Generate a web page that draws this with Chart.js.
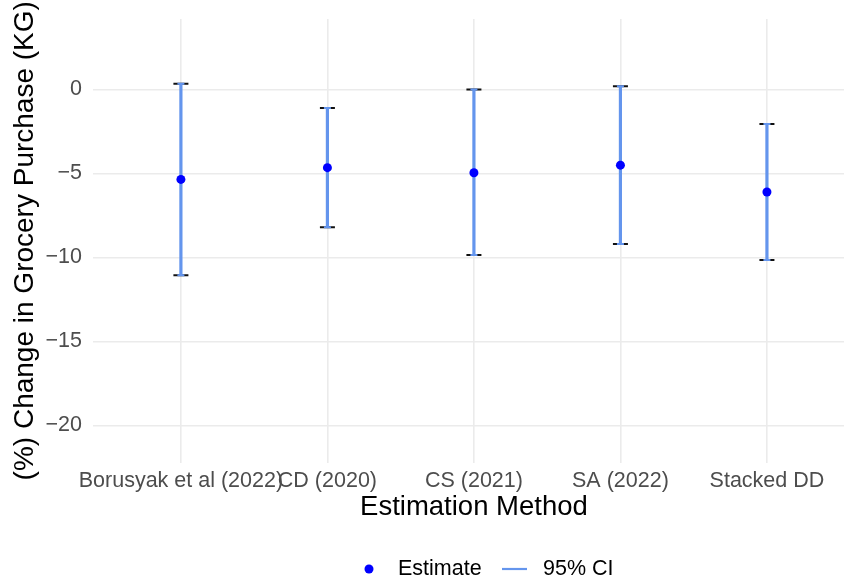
<!DOCTYPE html>
<html>
<head>
<meta charset="utf-8">
<script src="https://cdn.jsdelivr.net/npm/chart.js@4/dist/chart.umd.min.js"></script>
<style>
  html, body { margin: 0; padding: 0; background: #ffffff; }
  #wrap { width: 844px; height: 586px; }
</style>
</head>
<body>
<div id="wrap"><canvas id="chart" width="844" height="586"></canvas></div>
<script>
// Estimation methods and their point estimates with 95% confidence bounds
const categories = ['Borusyak et al (2022)', 'CD (2020)', 'CS (2021)', 'SA (2022)', 'Stacked DD'];
const estimates  = [-5.35, -4.65, -4.95, -4.5, -6.1];
const ciLower    = [-11.05, -8.2, -9.85, -9.2, -10.15];
const ciUpper    = [0.35, -1.1, 0.0, 0.2, -2.05];
const yTicks     = [0, -5, -10, -15, -20];

const FONT = '"Liberation Sans", Arial, Helvetica, sans-serif';
const CI_BLUE = '#6495ED';
const PT_BLUE = '#0000FF';

const pointData = estimates.map((v, i) => ({ x: i, y: v }));
const capData = [];
ciLower.forEach((lo, i) => { capData.push({ x: i, y: lo }); capData.push({ x: i, y: ciUpper[i] }); });
const rangeData = [];
ciLower.forEach((lo, i) => {
  rangeData.push({ x: i, y: lo });
  rangeData.push({ x: i, y: ciUpper[i] });
  rangeData.push({ x: i, y: null });
});

// X axis title centred on the panel, plus the bottom legend
const annotations = {
  id: 'annotations',
  afterDraw(chart) {
    const ctx = chart.ctx;
    const xs = chart.scales.x;
    const panelCenter = xs.getPixelForValue((categories.length - 1) / 2);
    ctx.save();
    ctx.textBaseline = 'middle';

    ctx.font = '27.5px ' + FONT;
    ctx.textAlign = 'center';
    ctx.fillStyle = '#000000';
    ctx.fillText('Estimation Method', panelCenter, 507);

    const y = 569;
    ctx.font = '21.5px ' + FONT;
    ctx.textAlign = 'left';
    ctx.beginPath();
    ctx.arc(369, y, 4.5, 0, Math.PI * 2);
    ctx.fillStyle = PT_BLUE;
    ctx.fill();
    ctx.fillStyle = '#000000';
    ctx.fillText('Estimate', 398, y);
    ctx.beginPath();
    ctx.moveTo(502, y);
    ctx.lineTo(527, y);
    ctx.strokeStyle = CI_BLUE;
    ctx.lineWidth = 2.2;
    ctx.stroke();
    ctx.fillText('95% CI', 543, y);
    ctx.restore();
  }
};

new Chart(document.getElementById('chart'), {
  type: 'scatter',
  data: {
    datasets: [
      {
        label: 'Estimate',
        data: pointData,
        order: 0,
        pointRadius: 4.5,
        pointHoverRadius: 4.5,
        backgroundColor: PT_BLUE,
        borderColor: PT_BLUE,
        borderWidth: 0
      },
      {
        label: 'CI cap (inner)',
        data: capData,
        order: 1,
        pointStyle: 'line',
        pointRadius: 3.5,
        borderColor: CI_BLUE,
        borderWidth: 2
      },
      {
        type: 'line',
        label: '95% CI',
        data: rangeData,
        order: 2,
        borderColor: CI_BLUE,
        borderWidth: 3.2,
        pointRadius: 0,
        spanGaps: false,
        fill: false
      },
      {
        label: 'CI cap',
        data: capData,
        order: 3,
        pointStyle: 'line',
        pointRadius: 7.5,
        borderColor: '#111111',
        borderWidth: 2
      }
    ]
  },
  options: {
    responsive: false,
    animation: false,
    devicePixelRatio: 1,
    layout: { autoPadding: false, padding: { top: 19, bottom: 62, left: 0, right: 0 } },
    plugins: { legend: { display: false }, tooltip: { enabled: false } },
    scales: {
      x: {
        type: 'linear',
        min: -0.6,
        max: 4.526,
        afterBuildTicks(scale) { scale.ticks = categories.map((c, i) => ({ value: i })); },
        afterFit(scale) {
          scale.height = 61.5;
          scale.paddingLeft = 0;
          scale.paddingRight = 0;
        },
        grid: { color: '#EBEBEB', lineWidth: 1.6, drawTicks: false },
        border: { display: false },
        ticks: {
          autoSkip: false,
          maxRotation: 0,
          minRotation: 0,
          padding: 5.5,
          color: '#4D4D4D',
          font: { family: FONT, size: 21.5 },
          callback: (v) => categories[v] ?? ''
        },
        title: { display: false }
      },
      y: {
        min: -22.2,
        max: 4.2,
        afterBuildTicks(scale) { scale.ticks = yTicks.map(v => ({ value: v })); },
        afterFit(scale) {
          scale.width = 93;
          scale.paddingTop = 0;
          scale.paddingBottom = 0;
        },
        grid: { color: '#EBEBEB', lineWidth: 1.6, drawTicks: false },
        border: { display: false },
        ticks: {
          padding: 11,
          color: '#4D4D4D',
          font: { family: FONT, size: 21.5 },
          callback: (v) => (v < 0 ? '\u2212' + Math.abs(v) : String(v))
        },
        title: {
          display: true,
          text: '(%) Change in Grocery Purchase (KG)',
          color: '#000000',
          padding: { top: 8, bottom: 0 },
          font: { family: FONT, size: 28 }
        }
      }
    }
  },
  plugins: [annotations]
});
</script>
</body>
</html>
